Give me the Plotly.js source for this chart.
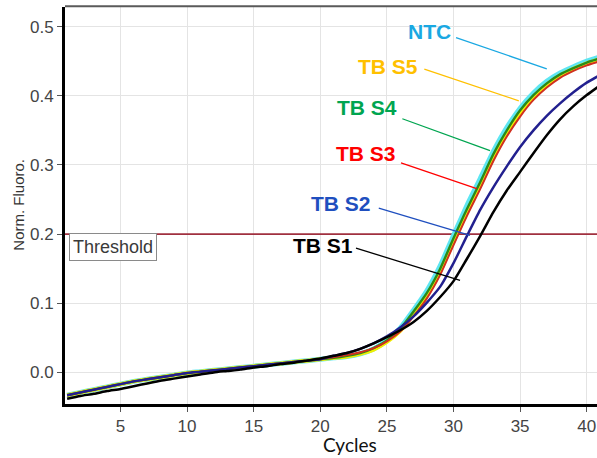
<!DOCTYPE html>
<html>
<head>
<meta charset="utf-8">
<script src="https://cdn.plot.ly/plotly-3.0.1.min.js"></script>
<style>html,body{margin:0;padding:0;background:#fff;}#chart{width:597px;height:458px;}</style>
</head>
<body>
<div id="chart"></div>
<script>
// ---- data ----
const cycles = [1,2,3,4,5,6,7,8,9,10,11,12,13,14,15,16,17,18,19,20,21,22,23,24,25,26,27,28,29,30,31,32,33,34,35,36,37,38,39,40,41];
const baseGroup = [-0.033,-0.029,-0.025,-0.021,-0.017,-0.013,-0.010,-0.007,-0.004,-0.001,0.001,0.003,0.005,0.007,0.009,0.011,0.013,0.015,0.017,0.019];
const ntcLate = [0.021,0.023,0.027,0.034,0.046,0.064,0.090,0.118,0.154,0.198,0.241,0.280,0.320,0.354,0.382,0.404,0.421,0.433,0.442,0.450,0.456];
const s5Late  = [0.021,0.023,0.027,0.033,0.044,0.060,0.085,0.111,0.146,0.189,0.231,0.270,0.311,0.346,0.375,0.398,0.416,0.429,0.439,0.447,0.453];
const s4Late  = [0.021,0.024,0.028,0.035,0.046,0.063,0.088,0.115,0.150,0.194,0.236,0.275,0.316,0.350,0.379,0.401,0.418,0.431,0.440,0.448,0.454];
const s3Late  = [0.022,0.025,0.029,0.035,0.045,0.059,0.081,0.107,0.141,0.184,0.226,0.265,0.306,0.341,0.370,0.394,0.412,0.426,0.436,0.444,0.450];
const s2Late  = [0.024,0.028,0.034,0.042,0.052,0.065,0.081,0.101,0.124,0.158,0.197,0.235,0.268,0.298,0.326,0.350,0.371,0.389,0.405,0.419,0.430];
const s1Early = [-0.038,-0.034,-0.031,-0.027,-0.024,-0.020,-0.016,-0.012,-0.009,-0.006,-0.003,0.000,0.002,0.004,0.007,0.009,0.012,0.014,0.017,0.020];
const s1Late  = [0.024,0.028,0.034,0.042,0.051,0.061,0.073,0.089,0.109,0.132,0.164,0.197,0.232,0.263,0.290,0.317,0.343,0.366,0.385,0.401,0.415];

const NTC  = baseGroup.concat(ntcLate);
const TBS5 = baseGroup.concat(s5Late);
const TBS4 = baseGroup.concat(s4Late);
const TBS3 = baseGroup.concat(s3Late);
const TBS2 = baseGroup.concat(s2Late);
const TBS1 = s1Early.concat(s1Late);

const threshold = 0.2;
const xTicks = [5,10,15,20,25,30,35,40];
const yTicks = [0,0.1,0.2,0.3,0.4,0.5];
const yTickText = ["0.0","0.1","0.2","0.3","0.4","0.5"];
const seriesNames = ["NTC","TB S5","TB S4","TB S3","TB S2","TB S1"];

// ---- styling ----
const lineColors = ["#5ee6f2","#f2f000","#2a8a1a","#d03020","#22208f","#000000"];
const lineWidths = [5,4,2.4,2,2.5,2.5];
const labelColors = ["#1aa8e2","#ffc000","#00a550","#ff0000","#1f4fbf","#000000"];
const seriesY = [NTC,TBS5,TBS4,TBS3,TBS2,TBS1];

const traces = [{
  x:[0, cycles[cycles.length-1]+1], y:[threshold, threshold], type:'scatter', mode:'lines',
  name:'Threshold', line:{color:'#a0303f', width:1.6}, hoverinfo:'skip'
}].concat(seriesY.map((y,i)=>({
  x: cycles, y: y, type:'scatter', mode:'lines', name: seriesNames[i],
  line:{color: lineColors[i], width: lineWidths[i], shape:'spline', smoothing:0.6},
  hoverinfo:'skip'
})));

// label layout: [textX, textY, lineX0, lineY0, lineX1, lineY1] in data units
const labelPos = [
  [28.19,0.4924, 30.19,0.4841, 37.0,0.4390],
  [25.07,0.4423, 27.81,0.4385, 34.9,0.3928],
  [23.51,0.3827, 26.16,0.3668, 32.74,0.3207],
  [23.46,0.3164, 26.06,0.3029, 31.74,0.2659],
  [21.56,0.2442, 24.39,0.2374, 31.24,0.1981],
  [20.17,0.1841, 22.68,0.1797, 30.49,0.1332]
];

const shapes = [
  {type:'line', xref:'paper', yref:'paper', x0:0, x1:1, y0:1.002, y1:1.002, line:{color:'#5a5a5a', width:2}}
];
labelPos.forEach((p,i)=>{
  shapes.push({type:'line', xref:'x', yref:'y', x0:p[2], y0:p[3], x1:p[4], y1:p[5], line:{color:labelColors[i], width:1.3}});
});

const annotations = labelPos.map((p,i)=>({
  x:p[0], y:p[1], xref:'x', yref:'y', text: seriesNames[i], showarrow:false,
  xanchor:'center', yanchor:'middle',
  font:{family:'Liberation Sans, Arial, sans-serif', size:21, color:labelColors[i], weight:700}
}));
annotations.push({
  x:1.14, y:threshold+0.001, xref:'x', yref:'y', text:'Threshold', showarrow:false,
  xanchor:'left', yanchor:'top', bgcolor:'#ffffff', bordercolor:'#8a8a8a', borderwidth:1, borderpad:3,
  font:{family:'Liberation Sans, Arial, sans-serif', size:18, color:'#3a3a3a'}
});
annotations.push({
  x:-0.088, y:0.5025, xref:'paper', yref:'paper', text:'Norm. Fluoro.', showarrow:false, textangle:-90,
  xanchor:'center', yanchor:'middle',
  font:{family:'Liberation Sans, Arial, sans-serif', size:15, color:'#333'}
});
annotations.push({
  x:0.5348, y:-0.103, xref:'paper', yref:'paper', text:'Cycles', showarrow:false,
  xanchor:'center', yanchor:'middle',
  font:{family:'Lato, sans-serif', size:19, color:'#111'}
});

const layout = {
  width:597, height:458,
  margin:{l:65, r:0, t:7, b:54, pad:0},
  paper_bgcolor:'#fff', plot_bgcolor:'#fff',
  showlegend:false,
  xaxis:{range:[0.84,40.77], tickvals:xTicks, ticks:'outside', ticklen:5, tickcolor:'#555', tickwidth:1,
         showline:true, linecolor:'#000', linewidth:3, showgrid:true, gridcolor:'#e4e4e4', zeroline:false,
         tickfont:{family:'Liberation Sans, Arial, sans-serif', size:17, color:'#444'}},
  yaxis:{range:[-0.0457,0.5284], tickvals:yTicks, ticktext:yTickText, ticks:'outside', ticklen:5, tickcolor:'#555', tickwidth:1,
         showline:true, linecolor:'#000', linewidth:3, showgrid:true, gridcolor:'#e4e4e4', zeroline:false,
         tickfont:{family:'Liberation Sans, Arial, sans-serif', size:17, color:'#444'}},
  shapes:shapes, annotations:annotations
};

Plotly.newPlot('chart', traces, layout, {staticPlot:true, displayModeBar:false});
</script>
</body>
</html>
